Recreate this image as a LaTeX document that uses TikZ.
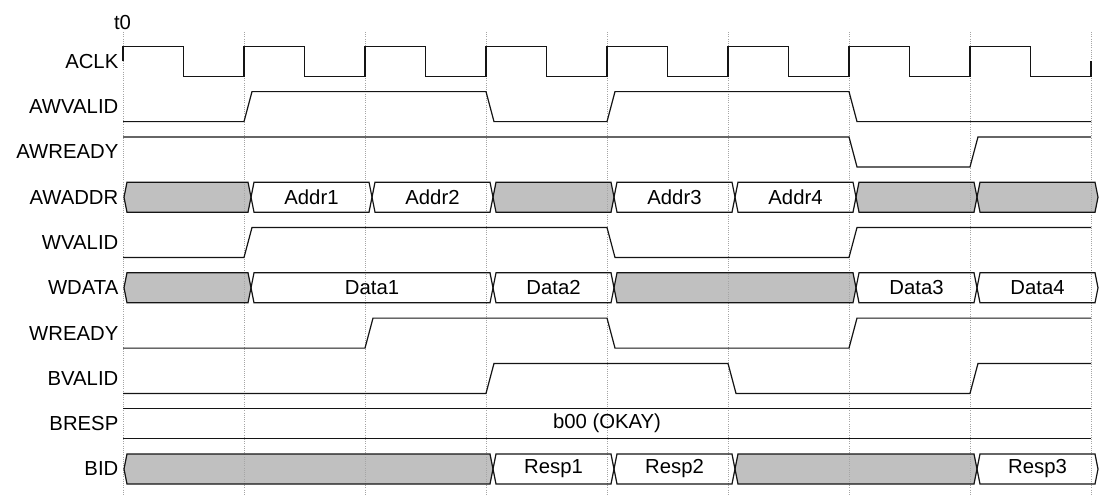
\documentclass[tikz,border=0pt]{standalone}
\usepackage{fontspec}
\setmainfont{Liberation Sans}
\definecolor{busgray}{RGB}{192,192,192}
\definecolor{wave}{RGB}{20,20,20}
\definecolor{gridc}{RGB}{165,165,165}
\tikzset{
  wavestyle/.style={draw=wave, line width=1.2pt, line join=miter},
  gridline/.style={draw=gridc, line width=0.9pt, dash pattern=on 1pt off 1.2pt},
  siglabel/.style={anchor=east, inner sep=0pt, font=\fontsize{20.3}{23}\selectfont},
  bustext/.style={inner sep=0pt, font=\fontsize{20.3}{23}\selectfont},
}
% #1 tipL, #2 cornerL, #3 cornerR, #4 tipR
\newcommand\busfillseg[4]{\fill[busgray] (#1,0) -- (#2,-15) -- (#3,-15) -- (#4,0) -- (#3,15) -- (#2,15) -- cycle;}
% #1 name, #2 tipL, #3 cornerL, #4 cornerR, #5 tipR, #6 text
\newcommand\busdrawseg[6]{\draw[wavestyle] (#2,0) -- (#3,-15) -- (#4,-15) -- (#5,0) -- (#4,15) -- (#3,15) -- cycle;
  \node[bustext] (#1) at ({(#3+#4)/2},0) {#6};}
\begin{document}
\begin{tikzpicture}[x=1pt,y=-1pt]
\useasboundingbox (0,0) rectangle (1106,495);
% ---- gray fills (below grid)
\begin{scope}[shift={(0,197.2)}]
  \busfillseg{124}{127}{248}{251}
  \busfillseg{493}{496}{611}{614}
  \busfillseg{856}{859}{974}{977}
  \busfillseg{977}{980}{1095}{1098}
\end{scope}
\begin{scope}[shift={(0,287.8)}]
  \busfillseg{124}{127}{248}{251}
  \busfillseg{614}{617}{853}{856}
\end{scope}
\begin{scope}[shift={(0,469)}]
  \busfillseg{124}{127}{490}{493}
  \busfillseg{735}{738}{974}{977}
\end{scope}
% ---- grid
\foreach \k in {0,...,8} {
  \draw[gridline] ({123+121*\k},32) -- ({123+121*\k},495);
}
% ---- t0
\node[bustext] (tzero) at (122.5,23) {t0};
% ---- labels
\node[siglabel] (lACLK) at (118.5,61.3) {ACLK};
\node[siglabel] (lAWVALID) at (118.5,106.6) {AWVALID};
\node[siglabel] (lAWREADY) at (118.5,151.9) {AWREADY};
\node[siglabel] (lAWADDR) at (118.5,197.2) {AWADDR};
\node[siglabel] (lWVALID) at (118.5,242.5) {WVALID};
\node[siglabel] (lWDATA) at (118.5,287.8) {WDATA};
\node[siglabel] (lWREADY) at (118.5,333.1) {WREADY};
\node[siglabel] (lBVALID) at (118.5,378.4) {BVALID};
\node[siglabel] (lBRESP) at (118.5,423.7) {BRESP};
\node[siglabel] (lBID) at (118.5,469) {BID};
% ---- ACLK
\begin{scope}[shift={(0,61.3)}]
  \draw[wavestyle] (123,0) -- (123,-15)
    -- (183.5,-15) -- (183.5,15) -- (244,15) -- (244,-15)
    -- (304.5,-15) -- (304.5,15) -- (365,15) -- (365,-15)
    -- (425.5,-15) -- (425.5,15) -- (486,15) -- (486,-15)
    -- (546.5,-15) -- (546.5,15) -- (607,15) -- (607,-15)
    -- (667.5,-15) -- (667.5,15) -- (728,15) -- (728,-15)
    -- (788.5,-15) -- (788.5,15) -- (849,15) -- (849,-15)
    -- (909.5,-15) -- (909.5,15) -- (970,15) -- (970,-15)
    -- (1030.5,-15) -- (1030.5,15) -- (1091,15) -- (1091,0);
\end{scope}
% ---- AWVALID
\begin{scope}[shift={(0,106.6)}]
  \draw[wavestyle] (123,15) -- (244,15) -- (252,-15) -- (486,-15) -- (494,15) -- (607,15) -- (615,-15) -- (849,-15) -- (857,15) -- (1091,15);
\end{scope}
% ---- AWREADY
\begin{scope}[shift={(0,151.9)}]
  \draw[wavestyle] (123,-15) -- (849,-15) -- (857,15) -- (970,15) -- (978,-15) -- (1091,-15);
\end{scope}
% ---- AWADDR
\begin{scope}[shift={(0,197.2)}]
  \busdrawseg{aw0}{124}{127}{248}{251}{}
  \busdrawseg{aw1}{251}{254}{369}{372}{Addr1}
  \busdrawseg{aw2}{372}{375}{490}{493}{Addr2}
  \busdrawseg{aw3}{493}{496}{611}{614}{}
  \busdrawseg{aw4}{614}{617}{732}{735}{Addr3}
  \busdrawseg{aw5}{735}{738}{853}{856}{Addr4}
  \busdrawseg{aw6}{856}{859}{974}{977}{}
  \busdrawseg{aw7}{977}{980}{1095}{1098}{}
\end{scope}
% ---- WVALID
\begin{scope}[shift={(0,242.5)}]
  \draw[wavestyle] (123,15) -- (244,15) -- (252,-15) -- (607,-15) -- (615,15) -- (849,15) -- (857,-15) -- (1091,-15);
\end{scope}
% ---- WDATA
\begin{scope}[shift={(0,287.8)}]
  \busdrawseg{wd0}{124}{127}{248}{251}{}
  \busdrawseg{wd1}{251}{254}{490}{493}{Data1}
  \busdrawseg{wd2}{493}{496}{611}{614}{Data2}
  \busdrawseg{wd3}{614}{617}{853}{856}{}
  \busdrawseg{wd4}{856}{859}{974}{977}{Data3}
  \busdrawseg{wd5}{977}{980}{1095}{1098}{Data4}
\end{scope}
% ---- WREADY
\begin{scope}[shift={(0,333.1)}]
  \draw[wavestyle] (123,15) -- (365,15) -- (373,-15) -- (607,-15) -- (615,15) -- (849,15) -- (857,-15) -- (1091,-15);
\end{scope}
% ---- BVALID
\begin{scope}[shift={(0,378.4)}]
  \draw[wavestyle] (123,15) -- (486,15) -- (494,-15) -- (728,-15) -- (736,15) -- (970,15) -- (978,-15) -- (1091,-15);
\end{scope}
% ---- BRESP
\begin{scope}[shift={(0,423.7)}]
  \draw[wavestyle] (123,-15) -- (1091,-15);
  \draw[wavestyle] (123,15) -- (1091,15);
  \node[bustext] (bresp) at (607,0) {b00 (OKAY)};
\end{scope}
% ---- BID
\begin{scope}[shift={(0,469)}]
  \busdrawseg{bid0}{124}{127}{490}{493}{}
  \busdrawseg{bid1}{493}{496}{611}{614}{Resp1}
  \busdrawseg{bid2}{614}{617}{732}{735}{Resp2}
  \busdrawseg{bid3}{735}{738}{974}{977}{}
  \busdrawseg{bid4}{977}{980}{1095}{1098}{Resp3}
\end{scope}
\end{tikzpicture}
\end{document}
